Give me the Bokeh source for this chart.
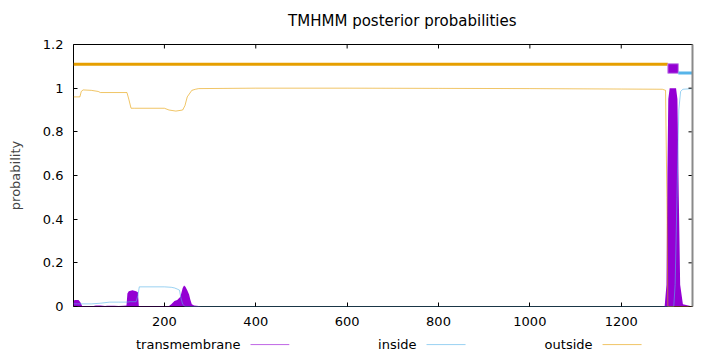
from bokeh.plotting import figure
from bokeh.models import Range1d, LinearAxis, FixedTicker
from bokeh.layouts import column
from bokeh.core.properties import value
from bokeh.embed import file_html
from bokeh.resources import INLINE

# ---------------- data ----------------
seq_length = 1356
title_text = "TMHMM posterior probabilities"

tm_pos = [1, 3, 12, 16, 20, 45, 50, 60, 70, 75, 90, 100, 110, 117, 119, 122, 130,
          138, 142, 144, 210, 215, 222, 228, 235, 240, 243, 246, 250, 254, 257, 260,
          265, 275, 280, 1295, 1299, 1301, 1303, 1306, 1320, 1323, 1326, 1329, 1335, 1356]
tm_prob = [0.02, 0.03, 0.03, 0.02, 0.002, 0.002, 0.005, 0.005, 0.002, 0.003, 0.003,
           0.002, 0.003, 0.005, 0.06, 0.07, 0.075, 0.07, 0.065, 0.002, 0.002, 0.01,
           0.025, 0.03, 0.045, 0.085, 0.096, 0.09, 0.075, 0.055, 0.03, 0.01, 0.005,
           0.002, 0.0, 0.0, 0.1, 0.6, 0.95, 1.0, 1.0, 0.95, 0.5, 0.1, 0.01, 0.0]

inside_pos = [1, 10, 40, 60, 80, 100, 118, 125, 138, 142, 145, 200, 215, 222, 228,
              233, 236, 240, 245, 1315, 1318, 1322, 1326, 1330, 1335, 1356]
inside_prob = [0.012, 0.012, 0.012, 0.015, 0.02, 0.02, 0.02, 0.022, 0.022, 0.05, 0.09,
               0.09, 0.088, 0.085, 0.08, 0.075, 0.04, 0.01, 0.0, 0.0, 0.1, 0.5, 0.9,
               0.985, 0.995, 0.998]

outside_pos = [1, 15, 18, 22, 40, 55, 60, 118, 122, 127, 135, 200, 210, 225, 240, 245,
               250, 260, 268, 275, 400, 600, 800, 1000, 1200, 1290, 1297, 1300, 1302, 1356]
outside_prob = [0.96, 0.96, 0.985, 0.992, 0.99, 0.985, 0.98, 0.98, 0.95, 0.908, 0.908,
                0.908, 0.9, 0.895, 0.9, 0.92, 0.96, 0.99, 0.995, 0.998, 1.0, 1.0, 0.999,
                0.998, 0.996, 0.995, 0.99, 0.5, 0.0, 0.0]

topo_label = ["outside", "TMhelix", "inside"]
topo_start = [1, 1302, 1325]
topo_end = [1302, 1325, 1356]

x_ticks = [200, 400, 600, 800, 1000, 1200]
y_ticks = [0, 0.2, 0.4, 0.6, 0.8, 1.0, 1.2]
y_tick_labels = ["0", "0.2", "0.4", "0.6", "0.8", "1", "1.2"]

legend_names = ["transmembrane", "inside", "outside"]

# ---------------- style ----------------
PURPLE = "#9400d3"
BLUE = "#56b4e9"
ORANGE = "#e69f00"
FONT = "DejaVu Sans"
FS = "13px"
W = 720
Y_MAX = 1.2


def strip(height, x_range, y_range, left=0, right=0):
    f = figure(width=W, height=height, output_backend="svg", toolbar_location=None,
               x_range=x_range, y_range=y_range, min_border_left=left,
               min_border_right=right, min_border_top=0, min_border_bottom=0,
               x_axis_location=None, y_axis_location=None)
    f.xgrid.grid_line_color = None
    f.ygrid.grid_line_color = None
    f.outline_line_color = None
    f.background_fill_color = "white"
    f.border_fill_color = "white"
    return f


# ---------------- title strip ----------------
TH = 32
tfig = strip(TH, Range1d(0, W), Range1d(0, TH))
tfig.text(x=[382.5], y=[TH - 20], text=[title_text], text_align="center",
          text_baseline="middle", text_font=value(FONT), text_font_size=value("15px"),
          text_color="black")

# ---------------- main plot ----------------
p = figure(width=W, height=302, output_backend="svg", toolbar_location=None,
           x_range=Range1d(1, seq_length), y_range=Range1d(0, Y_MAX),
           min_border_left=73, min_border_right=28, min_border_top=12,
           min_border_bottom=28)
p.background_fill_color = "white"
p.border_fill_color = "white"
p.outline_line_color = "black"
p.outline_line_width = 1
p.xgrid.grid_line_color = None
p.ygrid.grid_line_color = None

# probability curves
p.varea(x=tm_pos, y1=[0] * len(tm_pos), y2=tm_prob, fill_color=PURPLE)
p.line(inside_pos, inside_prob, line_color=BLUE, line_width=1, line_alpha=0.6)
p.line(outside_pos, outside_prob, line_color=ORANGE, line_width=1, line_alpha=0.6)

# topology bars at top
p.segment(x0=[topo_start[0]], y0=[1.11], x1=[topo_end[0]], y1=[1.11],
          line_color=ORANGE, line_width=3)
p.quad(left=[topo_start[1]], right=[topo_end[1]], bottom=[1.068], top=[1.112],
       fill_color=PURPLE, line_color="#c58ae8", line_width=1)
p.segment(x0=[topo_start[2]], y0=[1.07], x1=[topo_end[2]], y1=[1.07],
          line_color=BLUE, line_width=3)


def style_axis(ax):
    ax.major_tick_in = 4
    ax.major_tick_out = 0
    ax.minor_tick_in = 0
    ax.minor_tick_out = 0
    ax.major_tick_line_color = "black"
    ax.axis_line_color = None
    ax.major_label_text_font = FONT
    ax.major_label_text_color = "black"
    ax.major_label_text_font_size = FS


xa = p.xaxis[0]
xa.ticker = FixedTicker(ticks=x_ticks)
style_axis(xa)
xa.major_label_standoff = 10

ya = p.yaxis[0]
ya.ticker = FixedTicker(ticks=y_ticks)
ya.major_label_overrides = {t: l for t, l in zip(y_ticks, y_tick_labels)}
style_axis(ya)
ya.major_label_standoff = 10
ya.axis_label = "probability"
ya.axis_label_text_font = FONT
ya.axis_label_text_font_size = FS
ya.axis_label_text_font_style = "normal"
ya.axis_label_standoff = 17

# right border (gray, as in the reference) without labels
right = LinearAxis(ticker=FixedTicker(ticks=[]))
right.axis_line_color = "#8a8a8a"
right.axis_line_width = 2
right.major_tick_line_color = None
right.minor_tick_line_color = None
p.add_layout(right, "right")

# mirrored inward ticks on top and right borders (gnuplot style)
tick_dy = 4 * Y_MAX / 262.0
tick_dx = 4 * (seq_length - 1) / 619.0
p.segment(x0=x_ticks, y0=[Y_MAX] * len(x_ticks), x1=x_ticks,
          y1=[Y_MAX - tick_dy] * len(x_ticks), line_color="black", line_width=1)
p.segment(x0=[seq_length] * len(y_ticks), y0=y_ticks,
          x1=[seq_length - tick_dx] * len(y_ticks), y1=y_ticks,
          line_color="black", line_width=1)

# ---------------- legend strip (gnuplot style: label, then sample line) ----------------
LH = 18
leg = strip(LH, p.x_range, Range1d(0, 1), left=73, right=28)
leg_y = 0.44
leg_text_x = [366.6, 751.9, 1137.2]
leg_line_x0 = [388.5, 773.8, 1159.1]
leg_line_x1 = [473.4, 859.2, 1244.5]
leg_colors = [PURPLE, BLUE, ORANGE]
leg.text(x=leg_text_x, y=[leg_y] * 3, text=legend_names, text_align="right",
         text_baseline="middle", text_font=value(FONT), text_font_size=value(FS),
         text_color="black")
leg.segment(x0=leg_line_x0, y0=[leg_y] * 3, x1=leg_line_x1, y1=[leg_y] * 3,
            line_color=leg_colors, line_alpha=0.6, line_width=1)

layout = column(tfig, p, leg, spacing=0)
open("out.html", "w").write(file_html(layout, INLINE))
